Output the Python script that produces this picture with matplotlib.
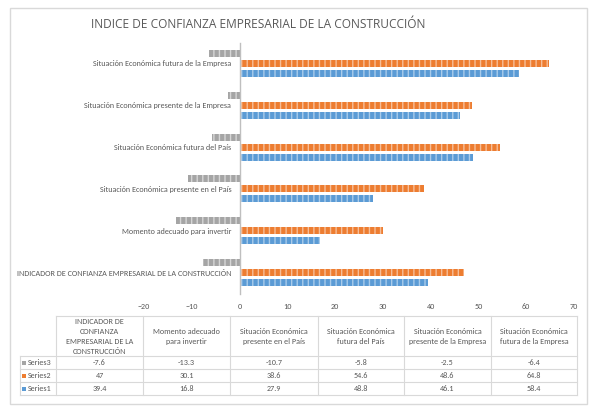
import matplotlib
matplotlib.use("Agg")
import matplotlib.pyplot as plt
from matplotlib import font_manager
from matplotlib.patches import Rectangle
from matplotlib.lines import Line2D

# ---------------- data ----------------
categories = [
    "INDICADOR DE CONFIANZA EMPRESARIAL DE LA CONSTRUCCIÓN",
    "Momento adecuado para invertir",
    "Situación Económica presente en el País",
    "Situación Económica futura del País",
    "Situación Económica presente de la Empresa",
    "Situación Económica futura de la Empresa",
]
table_headers = [
    "INDICADOR DE\nCONFIANZA\nEMPRESARIAL DE LA\nCONSTRUCCIÓN",
    "Momento adecuado\npara invertir",
    "Situación Económica\npresente en el País",
    "Situación Económica\nfutura del País",
    "Situación Económica\npresente de la Empresa",
    "Situación Económica\nfutura de la Empresa",
]
series1 = [39.4, 16.8, 27.9, 48.8, 46.1, 58.4]
series2 = [47, 30.1, 38.6, 54.6, 48.6, 64.8]
series3 = [-7.6, -13.3, -10.7, -5.8, -2.5, -6.4]
series_names = ["Series1", "Series2", "Series3"]
x_ticks = [-20, -10, 0, 10, 20, 30, 40, 50, 60, 70]
title = "INDICE DE CONFIANZA EMPRESARIAL DE LA CONSTRUCCIÓN"

# ---------------- style ----------------
names = {f.name for f in font_manager.fontManager.ttflist}
fam = "Lato"
for cand in ["Carlito", "Liberation Sans Narrow", "Roboto Condensed", "Open Sans Condensed"]:
    if cand in names:
        fam = cand
        break
plt.rcParams["font.family"] = [fam, "DejaVu Sans"]
plt.rcParams["hatch.linewidth"] = 1.0
TXT = "#595959"
GRID = "#D9D9D9"
colors = ["#5B9BD5", "#ED7D31", "#A5A5A5"]
hatch_cols = ["#A9CBEA", "#F6BE98", "#D6D6D6"]

W, H = 602, 416
fig = plt.figure(figsize=(W / 100, H / 100), dpi=100)
renderer = fig.canvas.get_renderer()


def fit_size(s, target_px, family=None):
    kw = {"family": family} if family else {}
    t = fig.text(0, 0, s, fontsize=10, **kw)
    w = t.get_window_extent(renderer).width
    t.remove()
    return 10 * target_px / w


FS = fit_size(categories[1], 111)
FS0 = min(FS, fit_size(categories[0], 218))
TFS = fit_size(title, 337, ["Open Sans", "DejaVu Sans"])


def fx(x):
    return x / W


def fy(y):
    return 1 - y / H


# outer border
fig.add_artist(Rectangle((fx(10), fy(404)), fx(587) - fx(10), fy(8) - fy(404),
                         transform=fig.transFigure, fill=False, edgecolor=GRID, lw=1))

fig.text(fx(258.5), fy(24), title, ha="center", va="center", fontsize=TFS,
         color=TXT, family=["Open Sans", "DejaVu Sans"])

# ---------------- bars ----------------
x0, x1 = 144, 574
ytop, ybot = 42.5, 293.5
ax = fig.add_axes([fx(x0), fy(ybot), fx(x1) - fx(x0), fy(ytop) - fy(ybot)])
ax.set_xlim(x_ticks[0], x_ticks[-1])
ax.set_ylim(-0.5, len(categories) - 0.5)
step = 0.24
h = 0.168
series = [series1, series2, series3]
for k, vals in enumerate(series):
    pos = [i + (k - 1) * step for i in range(len(categories))]
    ax.barh(pos, vals, height=h, color=colors[k], edgecolor=hatch_cols[k],
            linewidth=0, hatch="|||")
for name in ["top", "right", "bottom"]:
    ax.spines[name].set_visible(False)
ax.spines["left"].set_position(("data", 0))
ax.spines["left"].set_color("#BFBFBF")
ax.spines["left"].set_linewidth(1)
ax.spines["left"].set_zorder(3)
ax.set_yticks(range(len(categories)), labels=categories)
ax.set_xticks(x_ticks)
ax.tick_params(axis="both", length=0, labelsize=FS, labelcolor=TXT)
ax.tick_params(axis="y", pad=6)
ax.tick_params(axis="x", pad=7)
ax.get_yticklabels()[0].set_fontsize(FS0)
ax.patch.set_alpha(0)

# ---------------- data table ----------------
cols = [56, 143, 230, 318, 404, 491, 577]
leg_left = 20
y_head_top, y_head_bot = 316, 356
row_lines = [356, 369, 382, 395]


def hline(xa, xb, y):
    fig.add_artist(Line2D([fx(xa), fx(xb)], [fy(y), fy(y)], transform=fig.transFigure,
                          color=GRID, lw=0.8))


def vline(x, ya, yb):
    fig.add_artist(Line2D([fx(x), fx(x)], [fy(ya), fy(yb)], transform=fig.transFigure,
                          color=GRID, lw=0.8))


hline(cols[0], cols[-1], y_head_top)
for y in row_lines:
    hline(leg_left, cols[-1], y)
for c in cols:
    vline(c, y_head_top, row_lines[-1])
vline(leg_left, row_lines[0], row_lines[-1])

for j, hd in enumerate(table_headers):
    cx = (cols[j] + cols[j + 1]) / 2
    fig.text(fx(cx), fy((y_head_top + y_head_bot) / 2 + 0.5), hd, ha="center", va="center",
             fontsize=FS, color=TXT, linespacing=1.45)

row_series = [2, 1, 0]  # Series3, Series2, Series1
for r, k in enumerate(row_series):
    yc = (row_lines[r] + row_lines[r + 1]) / 2
    fig.add_artist(Rectangle((fx(21.5), fy(yc + 2)), fx(4), fy(0) - fy(4),
                             transform=fig.transFigure, color=colors[k], lw=0))
    fig.text(fx(27.5), fy(yc), series_names[k], ha="left", va="center",
             fontsize=FS, color=TXT)
    for j, v in enumerate(series[k]):
        cx = (cols[j] + cols[j + 1]) / 2
        fig.text(fx(cx), fy(yc), f"{v:g}", ha="center", va="center",
                 fontsize=FS, color=TXT)

fig.savefig("out.png", dpi=100)
